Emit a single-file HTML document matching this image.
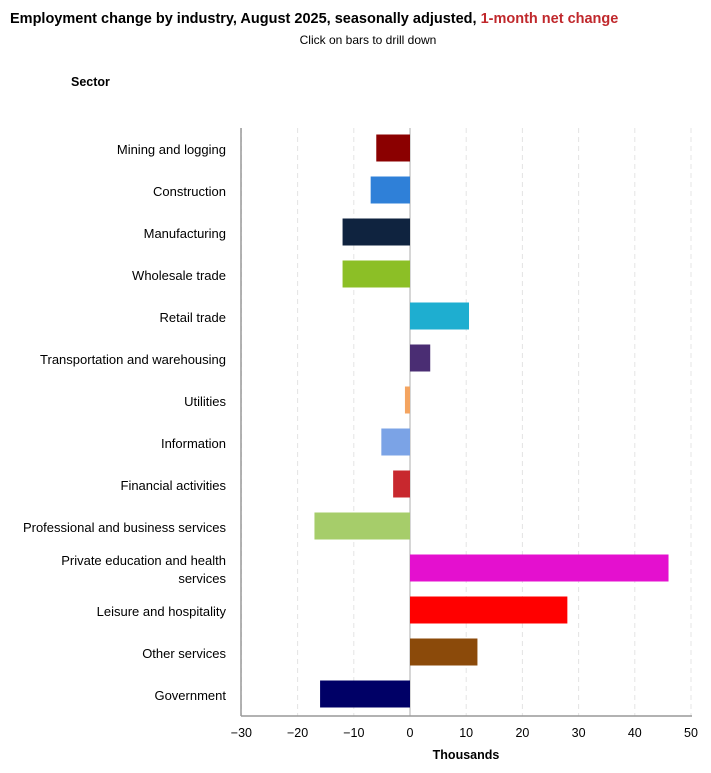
<!DOCTYPE html>
<html><head><meta charset="utf-8"><style>
body{margin:0;background:#fff;font-family:"Liberation Sans",Arial,sans-serif;}
#wrap{position:relative;width:711px;height:773px;overflow:hidden}
</style></head><body><div id="wrap">
<svg id="chart" width="711" height="773">
<text x="10" y="23" font-size="14.5" font-weight="bold" fill="#000">Employment change by industry, August 2025, seasonally adjusted, <tspan fill="#c0282c">1-month net change</tspan></text>
<text x="368" y="44" font-size="12" text-anchor="middle" fill="#000">Click on bars to drill down</text>
<text x="71" y="86" font-size="12.5" font-weight="bold" fill="#000">Sector</text>
<text x="466" y="759" font-size="12.5" font-weight="bold" text-anchor="middle" fill="#000">Thousands</text>
<g id="grid"></g><g id="bars"></g><g id="labels"></g><g id="ticks"></g>
<line x1="241" y1="128" x2="241" y2="716" stroke="#999" stroke-width="1.5"/>
<line x1="241" y1="716" x2="692" y2="716" stroke="#999" stroke-width="1.5"/>
</svg></div>
<script>
const categories=["Mining and logging","Construction","Manufacturing","Wholesale trade","Retail trade","Transportation and warehousing","Utilities","Information","Financial activities","Professional and business services","Private education and health|services","Leisure and hospitality","Other services","Government"];
const values=[-6,-7,-12,-12,10.5,3.6,-0.9,-5.1,-3,-17,46,28,12,-16];
const colors=["#8b0000","#2f80d8","#0f233f","#8cbf26","#1eaed0","#4a2d73","#f4a460","#7ba3e6","#c8282e","#a6cd6a","#e410cf","#ff0000","#8b4a0a","#000066"];
const ticks=[-30,-20,-10,0,10,20,30,40,50];
const NS="http://www.w3.org/2000/svg";
const x=v=>410+(v*56.2/10);
const y=i=>148+i*42;
function mk(t,a,p){const e=document.createElementNS(NS,t);for(const k in a)e.setAttribute(k,a[k]);document.getElementById(p).appendChild(e);return e;}
ticks.forEach(t=>{
 const g=mk("line",{x1:x(t),x2:x(t),y1:128,y2:716,stroke:t===0?"#bbb":"#e4e4e4","stroke-dasharray":t===0?"":"5,4","stroke-width":t===0?1.2:1},"grid");
 
 
 const l=mk("text",{x:x(t),y:737,"font-size":12.5,"text-anchor":"middle",fill:"#000"},"ticks");
 l.textContent=t<0?"\u2212"+(-t):String(t);
 
 
});
categories.forEach((c,i)=>{
 const v=values[i];
 const r=mk("rect",{x:Math.min(x(0),x(v)),y:y(i)-13.5,width:Math.abs(x(v)-x(0)),height:27,fill:colors[i],cursor:"pointer"},"bars");
 
 
 const parts=c.split("|");
 const t=mk("text",{x:226,"font-size":13,"text-anchor":"end",fill:"#000"},"labels");
 
 
 if(parts.length===1){t.setAttribute("y",y(i)+6);t.textContent=c;}
 else{parts.forEach((p,j)=>{const s=document.createElementNS(NS,"tspan");s.setAttribute("x",226);s.setAttribute("y",y(i)-3+j*18);s.textContent=p;t.appendChild(s);});}
});
</script></body></html>
